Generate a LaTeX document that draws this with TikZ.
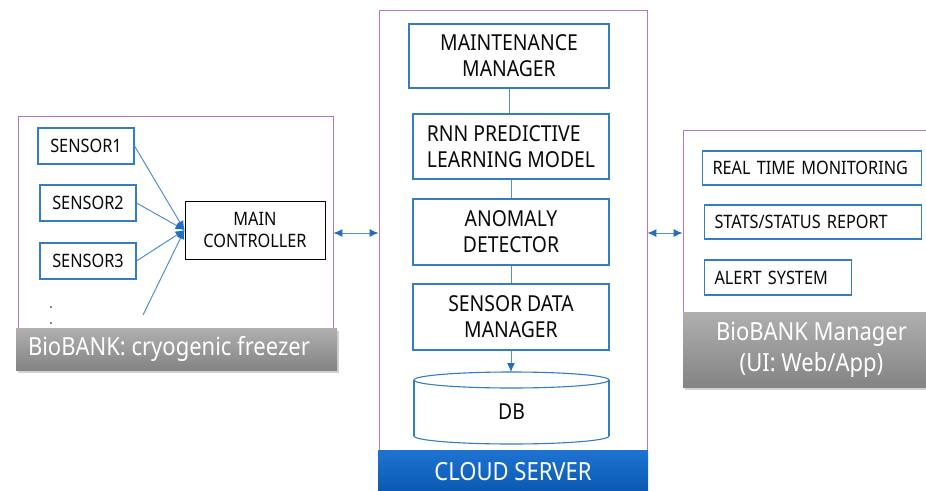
\documentclass[tikz,border=0pt]{standalone}
\usepackage{fontspec}
\setmainfont[FakeStretch=0.88]{Noto Sans}
\usetikzlibrary{arrows.meta,shadows}

\definecolor{frameviolet}{RGB}{175,120,215}
\definecolor{boxblue}{RGB}{50,125,195}
\definecolor{linkblue}{RGB}{80,145,210}
\definecolor{tipblue}{RGB}{30,110,200}
\definecolor{greytop}{RGB}{175,175,175}
\definecolor{greybot}{RGB}{132,132,132}
\definecolor{cloudtop}{RGB}{30,115,210}
\definecolor{cloudbot}{RGB}{8,88,175}
\definecolor{inktext}{RGB}{10,10,10}

\tikzset{
  frame/.style={draw=frameviolet, line width=0.9pt, rectangle, inner sep=0pt},
  unit/.style={draw=boxblue, line width=1.1pt, fill=white, rectangle, inner sep=0pt,
    text=inktext, align=center},
  smallunit/.style={unit, font=\fontsize{18.5}{22}\selectfont},
  bigunit/.style={unit, font=\fontsize{22}{26}\selectfont},
  panelitem/.style={unit, anchor=west, align=left, inner xsep=10pt, inner ysep=0pt,
    font=\fontsize{18.5}{22}\selectfont},
  ctrl/.style={draw=black, line width=1pt, fill=white, rectangle, inner sep=0pt,
    text=inktext, align=center, font=\fontsize{18.5}{22}\selectfont},
  greylabel/.style={rectangle, inner sep=0pt, top color=greytop, bottom color=greybot,
    text=white, drop shadow={opacity=0.35, shadow xshift=2pt, shadow yshift=-3pt}},
  cloudbar/.style={rectangle, inner sep=0pt, top color=cloudtop, bottom color=cloudbot,
    text=white, font=\fontsize{25}{28}\selectfont,
    drop shadow={opacity=0.3, shadow xshift=0pt, shadow yshift=-2pt}},
  link/.style={draw=linkblue, line width=1pt},
  tip/.style={Latex[length=9pt,width=8pt,color=tipblue]},
  tolink/.style={link, -{Latex[length=9pt,width=8pt,color=tipblue]}},
  bothlink/.style={link, {Latex[length=9pt,width=8pt,color=tipblue]}-{Latex[length=9pt,width=8pt,color=tipblue]}},
  dbline/.style={draw=boxblue, line width=1.1pt}
}

\begin{document}
\begin{tikzpicture}[x=1pt, y=-1pt]
\useasboundingbox (0,0) rectangle (926,490);
\fill[white] (0,0) rectangle (926,490);
\clip (0,0) rectangle (926,490);

% ---------- freezer side ----------
\node[frame, minimum width=315pt, minimum height=229pt] (leftframe) at (175.5,230.5) {};
\node[smallunit, minimum width=96pt, minimum height=36pt] (s1) at (86,146) {SENSOR1};
\node[smallunit, minimum width=96pt, minimum height=36pt] (s2) at (88,203) {SENSOR2};
\node[smallunit, minimum width=96pt, minimum height=36pt] (s3) at (88,261) {SENSOR3};
\node[ctrl, minimum width=140pt, minimum height=58pt] (main) at (255,230) {MAIN\\CONTROLLER};
\coordinate (hub) at (main.west);
\coordinate (more) at (143,315);
\draw[tolink] (s1.east) -- (hub);
\draw[tolink] (s2.east) -- (hub);
\draw[tolink] (s3.east) -- (hub);
\draw[tolink] (more) -- (hub);
\fill[inktext] (51,307) circle (0.8pt);
\fill[inktext] (51,323) circle (0.8pt);
\node[greylabel, minimum width=321pt, minimum height=42pt] (leftlabel) at (176.5,349) {};
\node[anchor=west, text=white, font=\fontsize{25}{28}\selectfont, inner sep=0pt]
  at (leftlabel.west) [xshift=12pt] {BioBANK: cryogenic freezer};

% ---------- cloud server ----------
\node[frame, minimum width=268pt, minimum height=442pt] (cloudframe) at (513,231) {};
\node[bigunit, minimum width=200pt, minimum height=64pt] (mm) at (509,56) {MAINTENANCE\\MANAGER};
\node[bigunit, minimum width=196pt, minimum height=65pt, align=left] (rnn) at (511,146.5) {RNN PREDICTIVE\\LEARNING MODEL};
\node[bigunit, minimum width=196pt, minimum height=66pt] (anom) at (511,232) {ANOMALY\\DETECTOR};
\node[bigunit, minimum width=196pt, minimum height=66pt] (sdm) at (511,317) {SENSOR DATA\\MANAGER};
\draw[link] (mm.south) -- (mm.south |- rnn.north);
\draw[link] (rnn.south) -- (anom.north);
\draw[link] (anom.south) -- (sdm.north);

% database drum
\draw[dbline] (414,380) -- (414,436);
\draw[dbline] (609,380) -- (609,436);
\draw[dbline] (414,436) arc[start angle=180, end angle=0, x radius=97.5, y radius=8];
\draw[dbline] (511.5,380) ellipse [x radius=97.5, y radius=8];
\coordinate (dbtop) at (511,372);
\node[text=inktext, font=\fontsize{22}{24}\selectfont, inner sep=0pt] (db) at (511.5,412) {DB};
\draw[tolink] (sdm.south) -- (dbtop);

\node[cloudbar, minimum width=270pt, minimum height=44pt] (cloudlabel) at (513,472) {CLOUD SERVER};

% ---------- manager side ----------
\node[frame, minimum width=277pt, minimum height=230pt] (rightframe) at (821.5,245) {};
\node[panelitem, text width=199pt, minimum height=34pt] (rtm) at (702,168) {REAL TIME MONITORING};
\node[panelitem, text width=197pt, minimum height=34pt] (stats) at (704,222) {STATS/STATUS REPORT};
\node[panelitem, text width=127pt, minimum height=35pt] (alert) at (704,277.5) {ALERT SYSTEM};
\node[greylabel, minimum width=257pt, minimum height=75pt, align=center,
  font=\fontsize{25}{31}\selectfont] (rightlabel) at (811.5,349.5) {BioBANK Manager\\(UI: Web/App)};

% ---------- links between the three parts ----------
\draw[bothlink] (leftframe.east |- 0,233) -- (cloudframe.west |- 0,233);
\draw[bothlink] (cloudframe.east |- 0,233) -- (rightframe.west |- 0,233);
\end{tikzpicture}
\end{document}
